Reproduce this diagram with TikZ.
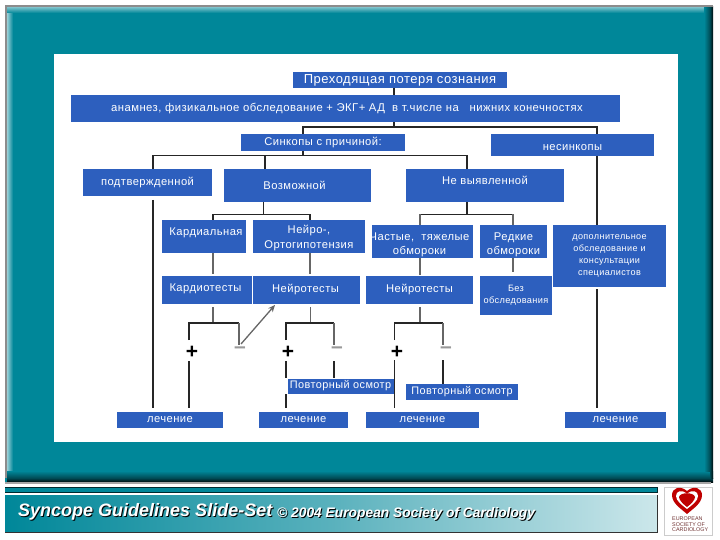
\documentclass[tikz,border=0pt]{standalone}
\usepackage{fontspec}
\setmainfont{Liberation Sans}
\newfontfamily\spc[LetterSpace=4]{Liberation Sans}
\usetikzlibrary{arrows.meta}
\definecolor{boxblue}{HTML}{2D5FBE}
\definecolor{frameteal}{HTML}{008799}
\definecolor{linegray}{HTML}{666666}
\tikzset{
  x=1pt,y=-1pt,
  bx/.style n args={4}{fill=boxblue,draw=none,inner sep=0pt,outer sep=0pt,text=white,align=center,
    minimum width=#3-#1,minimum height=#4-#2,anchor=north west},
  fs/.style={font=\fontsize{#1}{#1}\selectfont\spc},
  fs/.default=11.2,
  cn/.style={draw=black!85,line width=1.3pt},
  cg/.style={draw=linegray,line width=1.3pt},
  sign/.style={inner sep=0pt,font=\fontsize{21}{21}\selectfont\bfseries}
}
\newcommand{\bnode}[7][]{\node[bx={#3}{#4}{#5}{#6},fs,#1] (#2) at (#3,#4) {#7};}
\begin{document}
\begin{tikzpicture}
\useasboundingbox (0,0) rectangle (720,540);
\fill[white] (0,0) rectangle (720,540);
% frame
\fill[frameteal] (5,5) rectangle (713,482);
\shade[left color=white!60!frameteal,right color=frameteal] (7,7) rectangle (13,478);
\shade[top color=white!50!frameteal,bottom color=frameteal] (7,7) rectangle (706,13);
\shade[top color=frameteal,bottom color=black!45!frameteal] (7,471) rectangle (713,478);
\shade[top color=black!45!frameteal,bottom color=black!90!frameteal] (7,478) rectangle (713,482);
\shade[left color=frameteal,right color=black!45!frameteal] (704,7) rectangle (710,471);
\shade[left color=black!45!frameteal,right color=black!90!frameteal] (710,7) rectangle (713,478);
\fill[black!45] (5,5) rectangle (7,478);
\fill[black!45] (5,5) rectangle (713,7);
\fill[black!35] (5,482) rectangle (711,484);
\fill[white] (54,54) rectangle (678,442);
% footer
\fill[black!70!frameteal] (5,487) rectangle (658,493);
\fill[frameteal] (5,487.5) rectangle (657,491.5);
\shade[left color=frameteal,right color=white!80!frameteal,middle color=white!35!frameteal] (5,495) rectangle (657,532);
\draw[black!80,line width=1.2pt] (5,532.5) -- (657.5,532.5) -- (657.5,495);
\node[anchor=west,inner sep=0pt,text=black,font=\fontsize{18}{18}\selectfont\bfseries\itshape] (st) at (19,512.5) {Syncope Guidelines Slide-Set};
\node[anchor=west,inner sep=0pt,text=white,font=\fontsize{18}{18}\selectfont\bfseries\itshape] (t) at (18,511.5) {Syncope Guidelines Slide-Set};
\node[anchor=west,inner sep=0pt,text=black,font=\fontsize{13.8}{13.8}\selectfont\bfseries\itshape] (sc) at (278,514.5) {© 2004 European Society of Cardiology};
\node[anchor=west,inner sep=0pt,text=white,font=\fontsize{13.8}{13.8}\selectfont\bfseries\itshape] (c) at (277,513.5) {© 2004 European Society of Cardiology};
% logo
\draw[black!20,line width=0.4pt] (664,487) rectangle (712,535);
\fill[red!75!black] (687,514) .. controls (680,508) and (672,503) .. (672,495) .. controls (672,488) and (680,485) .. (687,491) .. controls (694,485) and (702,488) .. (702,495) .. controls (702,503) and (694,508) .. (687,514) -- cycle;
\fill[white] (687,509) .. controls (682,505) and (676,501) .. (676,496) .. controls (676,491) and (682,489) .. (687,494) .. controls (692,489) and (698,491) .. (698,496) .. controls (698,501) and (692,505) .. (687,509) -- cycle;
\fill[red!75!black] (687,507) .. controls (683,504) and (679,500) .. (679,497) .. controls (680,492) and (694,492) .. (695,497) .. controls (695,500) and (691,504) .. (687,507) -- cycle;
\node[anchor=north west,inner sep=0pt,align=left,text=red!30!black!80,font=\fontsize{5.4}{5.7}\selectfont] (lg) at (672,516.5) {EUROPEAN\\SOCIETY OF\\CARDIOLOGY};
% boxes
\bnode[fs=13]{title}{293}{72}{507}{88}{\raisebox{-3.5pt}{Преходящая потеря сознания}}
\bnode[fs=11.3]{anam}{71}{95}{620}{122}{\hspace*{3pt}\raisebox{2pt}{анамнез, физикальное обследование + ЭКГ+ АД\ \ в т.числе на\ \ \ нижних конечностях}}
\bnode{sink}{241}{134}{405}{151}{\raisebox{-6pt}{Синкопы с причиной:}}
\bnode{nesink}{491}{134}{654}{156}{\raisebox{-11pt}{несинкопы}}
\bnode{podt}{83}{169}{212}{196}{\raisebox{-2pt}{подтвержденной}}
\bnode{vozm}{224}{169}{371}{202}{\hspace*{-6pt}Возможной}
\bnode{nevyv}{406}{169}{564}{202}{\raisebox{11pt}{Не выявленной}}
\bnode{kard}{162}{220}{246}{253}{\hspace*{4pt}\raisebox{10pt}{Кардиальная}}
\bnode{neiro}{253}{220}{365}{253}{\rule{0pt}{12pt}Нейро-,\\[4pt]Ортогипотензия}
\bnode{chast}{372}{225}{473}{258}{\rule{0pt}{14pt}\hspace*{-6pt}Частые,\ \ тяжелые\\[3pt]\hspace*{-6pt}обмороки}
\bnode{redk}{480}{225}{547}{258}{\rule{0pt}{14pt}Редкие\\[3pt]обмороки}
\bnode[fs=9.1]{dop}{553}{225}{666}{287}{дополнительное\\[2.6pt]обследование и\\[2.6pt]консультации\\[2.6pt]специалистов}
\bnode{ktest}{162}{276}{252}{304}{\hspace*{-3pt}\raisebox{4pt}{Кардиотесты}}
\bnode{ntest}{253}{276}{360}{304}{\hspace*{-2pt}Нейротесты}
\bnode{ntestb}{366}{276}{473}{304}{Нейротесты}
\bnode[fs=9.2]{bez}{480}{276}{552}{315}{\raisebox{5pt}{\parbox{72pt}{\centering Без\\[2.5pt]обследования}}}
\bnode{lecha}{117}{412}{223}{428}{\raisebox{-6pt}{лечение}}
\bnode{lechb}{259}{412}{348}{428}{\raisebox{-6pt}{лечение}}
\bnode{lechc}{366}{412}{479}{428}{\raisebox{-6pt}{лечение}}
\bnode{lechd}{565}{412}{666}{428}{\raisebox{-6pt}{лечение}}
% coordinates
\coordinate (ja) at (394,127);
\coordinate (jal) at (303,127);
\coordinate (jar) at (597,127);
\coordinate (jb) at (303,155.5);
\coordinate (jbl) at (153,155.5);
\coordinate (jbm) at (265,155.5);
\coordinate (jbr) at (467,155.5);
\coordinate (pe) at (153,200);
\coordinate (pl) at (153,408);
\coordinate (jc) at (263.5,214.5);
\coordinate (jcl) at (213,214.5);
\coordinate (jcr) at (310,214.5);
\coordinate (jd) at (467,214.5);
\coordinate (jdl) at (420,214.5);
\coordinate (jdr) at (513,214.5);
% top connectors
\draw[cn] (title.south -| ja) -- (anam.north -| ja);
\draw[cn] (anam.south -| ja) -- (ja);
\draw[cn] (sink.north -| jal) |- (jar) -- (nesink.north -| jar);
\draw[cn] (sink.south -| jb) -- (jb);
\draw[cn] (podt.north -| jbl) |- (jbr) -- (nevyv.north -| jbr);
\draw[cn] (jbm) -- (vozm.north -| jbm);
\draw[cn] (pe) -- (pl);
\draw[cn] (vozm.south -| jc) -- (jc);
\draw[cn] (kard.north -| jcl) |- (jcr) -- (neiro.north -| jcr);
\draw[cn] (nevyv.south -| jd) -- (jd);
\draw[cn] (jdl) -- (jdr);
\draw[cg] (chast.north -| jdl) -- (jdl);
\draw[cg] (redk.north -| jdr) -- (jdr);
\draw[cn] (nesink.south -| jar) -- (dop.north -| jar);
\coordinate (de) at (597,289);
\coordinate (dl) at (597,408);
\draw[cn] (de) -- (dl);
% to test row
\coordinate (ka) at (213,274);
\coordinate (na) at (310,274);
\coordinate (ca) at (420,275);
\coordinate (ra) at (513,272);
\draw[cg] (kard.south -| ka) -- (ka);
\draw[cg] (neiro.south -| na) -- (na);
\draw[cg] (chast.south -| ca) -- (ca);
\draw[cg] (redk.south -| ra) -- (ra);
% branch 1
\node[sign] (pa) at (192,352.5) {+};
\node[sign,text=black!40] (ma) at (240,350.5) {–};
\coordinate (ta) at (213,307); \coordinate (ba) at (213,323);
\coordinate (bal) at (189,323); \coordinate (bar) at (239,323);
\coordinate (bale) at (189,340); \coordinate (bare) at (239,345);
\coordinate (bas) at (189,361); \coordinate (bae) at (189,408);
\draw[cg] (ta) -- (ba);
\draw[cn] (bale) -- (bal) -- (bar);
\draw[cg] (bar) -- (bare);
\draw[cn] (bas) -- (bae);
\coordinate (ars) at (241,344);
\coordinate (art) at (275,305);
\draw[linegray,line width=1.3pt,-{Stealth[length=7pt,width=6pt]}] (ars) -- (art);
% branch 2
\node[sign] (pb) at (288,352.5) {+};
\node[sign,text=black!40] (mb) at (337,350.5) {–};
\bnode[fs=10.9,draw=white,line width=0.6pt]{pova}{287}{378}{394}{394}{\raisebox{-5pt}{Повторный осмотр}}
\coordinate (tb) at (310.5,307); \coordinate (bb) at (310.5,323);
\coordinate (bbl) at (286,323); \coordinate (bbr) at (334,323);
\coordinate (bble) at (286,340); \coordinate (bbre) at (334,345);
\coordinate (bbs) at (286,361); \coordinate (bbe) at (286,408);
\coordinate (bcs) at (334,361);
\draw[cg] (tb) -- (bb);
\draw[cn] (bble) -- (bbl) -- (bbr);
\draw[cg] (bbr) -- (bbre);
\draw[cn] (bbs) -- (pova.north -| bbs);
\draw[cn] (pova.south -| bbs) -- (bbe);
\draw[cn] (bcs) -- (pova.north -| bcs);
% branch 3
\node[sign] (pc) at (397,352.5) {+};
\node[sign,text=black!40] (mc) at (446,350.5) {–};
\bnode[fs=10.9]{povb}{406}{384}{518}{400}{\raisebox{-3pt}{Повторный осмотр}}
\coordinate (tc) at (420,307); \coordinate (bc) at (420,323);
\coordinate (bcl) at (394.5,323); \coordinate (bcr) at (443,323);
\coordinate (bcle) at (394.5,340); \coordinate (bcre) at (443,345);
\coordinate (bds) at (394.5,360); \coordinate (bde) at (394.5,408);
\coordinate (bes) at (443,360);
\draw[cg] (tc) -- (bc);
\draw[cn] (bcle) -- (bcl) -- (bcr);
\draw[cg] (bcr) -- (bcre);
\draw[cn] (bds) -- (bde);
\draw[cn] (bes) -- (povb.north -| bes);
\end{tikzpicture}
\end{document}
